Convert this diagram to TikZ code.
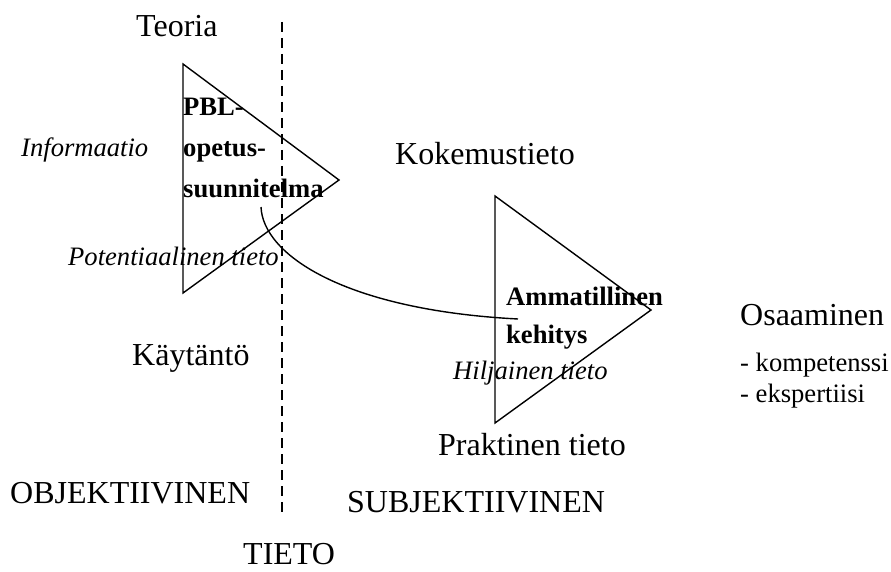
\documentclass[tikz,border=0pt]{standalone}
\usepackage{fontspec}
\setmainfont{Liberation Serif}
\begin{document}
\begin{tikzpicture}[x=1pt,y=-1pt,
  big/.style={anchor=base west,inner sep=0pt,font=\fontsize{32}{38}\selectfont},
  small/.style={anchor=base west,inner sep=0pt,font=\fontsize{26.6}{32}\selectfont},
  lab/.style={small,font=\fontsize{26.6}{32}\selectfont\itshape},
  bold/.style={small,font=\fontsize{26.6}{32}\selectfont\bfseries},
  tri/.style={draw=black,line width=1.4pt,line join=miter},
  divider/.style={draw=black,line width=2pt,dash pattern=on 10pt off 6pt}]
\useasboundingbox (0,0) rectangle (891,572);
% divider
\coordinate (dtop) at (282,22);
\coordinate (dbot) at (282,518);
\draw[divider] (dtop) -- (dbot);
% triangles
\coordinate (t1a) at (183,64);
\coordinate (t1b) at (339,180);
\coordinate (t1c) at (183,293);
\draw[tri] (t1a) -- (t1b) -- (t1c) -- cycle;
\coordinate (t2a) at (495,196);
\coordinate (t2b) at (651,310);
\coordinate (t2c) at (495,423);
\draw[tri] (t2a) -- (t2b) -- (t2c) -- cycle;
% connecting curve
\coordinate (cs) at (261,207);
\coordinate (ce) at (518,319);
\draw[line width=1.4pt] (cs) .. controls (263,255) and (345,310) .. (ce);
% texts
\node[big] (teoria) at (136,37) {Teoria};
\node[lab] (info) at (21,157) {Informaatio};
\node[bold] (pbl1) at (183,116) {PBL-};
\node[bold] (pbl2) at (183,157) {opetus-};
\node[bold] (pbl3) at (183,198) {suunnitelma};
\node[lab] (pot) at (68,265) {Potentiaalinen tieto};
\node[big] (koke) at (395,165) {Kokemustieto};
\node[big] (kayt) at (132,365) {Käytäntö};
\node[bold] (amm1) at (506,305) {Ammatillinen};
\node[bold] (amm2) at (506,343) {kehitys};
\node[lab] (hilj) at (453,379) {Hiljainen tieto};
\node[big] (prak) at (438,455) {Praktinen tieto};
\node[big] (osa) at (740,325) {Osaaminen};
\node[small] (komp) at (740,371) {- kompetenssi};
\node[small] (eksp) at (740,402) {- ekspertiisi};
\node[big] (obj) at (10,503) {OBJEKTIIVINEN};
\node[big] (subj) at (347,512) {SUBJEKTIIVINEN};
\node[big] (tieto) at (243,564) {TIETO};
\end{tikzpicture}
\end{document}
